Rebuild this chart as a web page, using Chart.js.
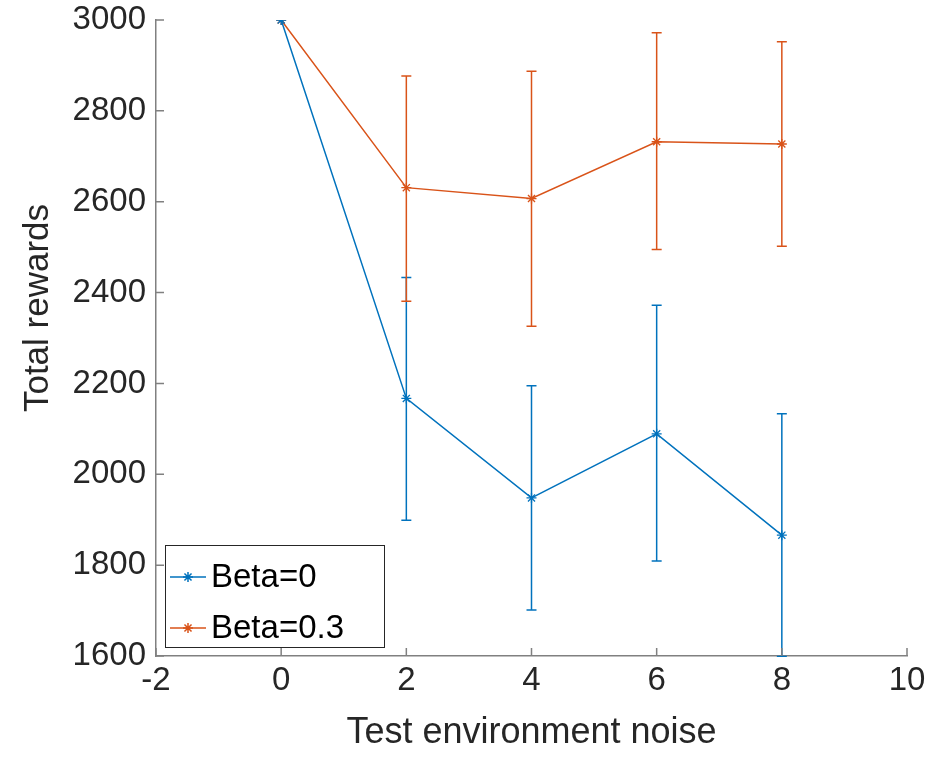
<!DOCTYPE html>
<html>
<head>
<meta charset="utf-8">
<script src="https://cdn.jsdelivr.net/npm/chart.js@4.4.1/dist/chart.umd.min.js"></script>
<style>
  html, body { margin: 0; padding: 0; background: #fff; }
  #grafico { width: 948px; height: 757px; }
</style>
</head>
<body>
<div id="grafico"><canvas id="miGrafico" width="948" height="757"></canvas></div>
<script>
// datos
const noise = [0, 2, 4, 6, 8];
const beta0Mean  = [3000, 2167, 1948, 2089, 1866];
const beta0Upper = [3000, 2433, 2195, 2372, 2133];
const beta0Lower = [3000, 1899, 1701, 1809, 1599];
const beta03Mean  = [3000, 2631, 2607, 2732, 2727];
const beta03Upper = [3000, 2877, 2887, 2972, 2952];
const beta03Lower = [3000, 2381, 2326, 2495, 2502];
const seriesLabels = ['Beta=0', 'Beta=0.3'];
const xTicks = [-2, 0, 2, 4, 6, 8, 10];
const yTicks = [1600, 1800, 2000, 2200, 2400, 2600, 2800, 3000];

const azul = '#0072BD';
const naranja = '#D95319';
const fuente = "'Liberation Sans', Arial, sans-serif";

const toPoints = (xs, ys) => xs.map((x, i) => ({ x: x, y: ys[i] }));

// barras de error, ticks hacia dentro, leyenda y titulo del eje y
const errorBars = {
  id: 'errorBars',
  beforeDatasetsDraw(chart) {
    const { ctx, chartArea, scales } = chart;
    const bounds = [[beta0Lower, beta0Upper], [beta03Lower, beta03Upper]];
    ctx.save();
    ctx.beginPath();
    ctx.rect(chartArea.left, chartArea.top, chartArea.right - chartArea.left, chartArea.bottom - chartArea.top + 1);
    ctx.clip();
    chart.data.datasets.forEach((ds, d) => {
      ctx.strokeStyle = ds.borderColor;
      ctx.lineWidth = 1.5;
      noise.forEach((n, i) => {
        const lo = bounds[d][0][i], hi = bounds[d][1][i];
        if (lo === hi) return;
        const px = scales.x.getPixelForValue(n);
        const yLo = scales.y.getPixelForValue(lo);
        const yHi = scales.y.getPixelForValue(hi);
        ctx.beginPath();
        ctx.moveTo(px, yLo); ctx.lineTo(px, yHi);
        ctx.moveTo(px - 5, yLo); ctx.lineTo(px + 5, yLo);
        ctx.moveTo(px - 5, yHi); ctx.lineTo(px + 5, yHi);
        ctx.stroke();
      });
    });
    ctx.restore();
  },
  afterDraw(chart) {
    const { ctx, chartArea, scales } = chart;
    ctx.save();
    ctx.strokeStyle = '#808080';
    ctx.lineWidth = 1.5;
    ctx.beginPath();
    xTicks.forEach(v => {
      const px = scales.x.getPixelForValue(v);
      ctx.moveTo(px, chartArea.bottom); ctx.lineTo(px, chartArea.bottom - 8);
    });
    yTicks.forEach(v => {
      const py = scales.y.getPixelForValue(v);
      ctx.moveTo(chartArea.left, py); ctx.lineTo(chartArea.left + 8, py);
    });
    ctx.stroke();

    // titulo eje y
    ctx.save();
    ctx.translate(38, 308);
    ctx.rotate(-Math.PI / 2);
    ctx.fillStyle = '#262626';
    ctx.font = '35px ' + fuente;
    ctx.textAlign = 'center';
    ctx.textBaseline = 'middle';
    ctx.fillText('Total rewards', 0, 0);
    ctx.restore();

    // leyenda
    const bx = chartArea.left + 9, by = chartArea.bottom - 111;
    const bw = 219, bh = 102;
    ctx.fillStyle = '#fff';
    ctx.fillRect(bx, by, bw, bh);
    ctx.strokeStyle = '#262626';
    ctx.lineWidth = 1;
    ctx.strokeRect(bx + 0.5, by + 0.5, bw, bh);
    chart.data.datasets.forEach((ds, i) => {
      const y = by + 32 + i * 51;
      ctx.strokeStyle = ds.borderColor;
      ctx.lineWidth = 1.5;
      ctx.beginPath();
      ctx.moveTo(bx + 5, y); ctx.lineTo(bx + 41, y);
      ctx.stroke();
      ctx.beginPath();
      const cx = bx + 23, r = 5;
      ctx.moveTo(cx - r, y); ctx.lineTo(cx + r, y);
      ctx.moveTo(cx, y - r); ctx.lineTo(cx, y + r);
      const k = r * 0.707;
      ctx.moveTo(cx - k, y - k); ctx.lineTo(cx + k, y + k);
      ctx.moveTo(cx - k, y + k); ctx.lineTo(cx + k, y - k);
      ctx.stroke();
      ctx.fillStyle = '#000';
      ctx.font = '33px ' + fuente;
      ctx.textBaseline = 'middle';
      ctx.fillText(ds.label, bx + 46, y + 1);
    });
    ctx.restore();
  }
};

const ctx = document.getElementById('miGrafico').getContext('2d');
new Chart(ctx, {
  type: 'line',
  data: {
    datasets: [{
      label: seriesLabels[0],
      data: toPoints(noise, beta0Mean),
      borderColor: azul,
      backgroundColor: azul,
      borderWidth: 1.5,
      pointStyle: 'star',
      pointRadius: 5,
      pointBorderWidth: 1.3
    }, {
      label: seriesLabels[1],
      data: toPoints(noise, beta03Mean),
      borderColor: naranja,
      backgroundColor: naranja,
      borderWidth: 1.5,
      pointStyle: 'star',
      pointRadius: 5,
      pointBorderWidth: 1.3
    }]
  },
  options: {
    responsive: false,
    animation: false,
    layout: { padding: { left: 0, top: 0, right: 41, bottom: 0 } },
    plugins: { legend: { display: false }, tooltip: { enabled: false } },
    scales: {
      x: {
        type: 'linear',
        min: -2, max: 10,
        afterBuildTicks: s => { s.ticks = xTicks.map(v => ({ value: v })); },
        afterFit: s => { s.height = 101; },
        grid: { display: false, drawTicks: false },
        border: { display: true, color: '#808080', width: 1.5 },
        ticks: { color: '#262626', font: { family: fuente, size: 33 }, padding: 5, maxRotation: 0, callback: v => String(v) },
        title: { display: true, text: 'Test environment noise', color: '#262626', font: { family: fuente, size: 36 }, padding: { top: 0, bottom: 2 } }
      },
      y: {
        min: 1600, max: 3000,
        afterBuildTicks: s => { s.ticks = yTicks.map(v => ({ value: v })); },
        afterFit: s => { s.width = 156; s.paddingTop = 20; },
        grid: { display: false, drawTicks: false },
        border: { display: true, color: '#808080', width: 1.5 },
        ticks: { color: '#262626', font: { family: fuente, size: 33 }, padding: 10, callback: v => String(v) }
      }
    }
  },
  plugins: [errorBars]
});
</script>
</body>
</html>
